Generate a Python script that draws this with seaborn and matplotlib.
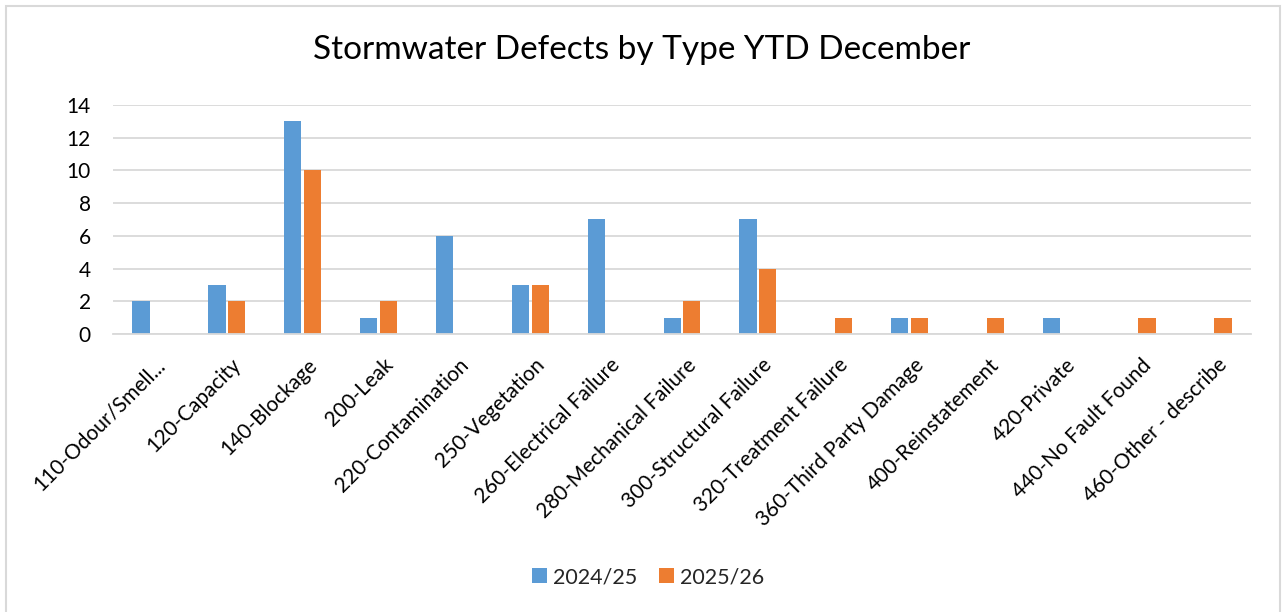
import matplotlib
matplotlib.use("Agg")
import matplotlib.pyplot as plt
import matplotlib.transforms as mtransforms
from matplotlib.patches import Rectangle
import seaborn as sns
import pandas as pd

categories = ["110-Odour/Smell...", "120-Capacity", "140-Blockage", "200-Leak",
              "220-Contamination", "250-Vegetation", "260-Electrical Failure",
              "280-Mechanical Failure", "300-Structural Failure", "320-Treatment Failure",
              "360-Third Party Damage", "400-Reinstatement", "420-Private",
              "440-No Fault Found", "460-Other - describe"]
series_names = ["2024/25", "2025/26"]
values_2024_25 = [2, 3, 13, 1, 6, 3, 7, 1, 7, 0, 1, 0, 1, 0, 0]
values_2025_26 = [0, 2, 10, 2, 0, 3, 0, 2, 4, 1, 1, 1, 0, 1, 1]
yticks = [0, 2, 4, 6, 8, 10, 12, 14]
title = "Stormwater Defects by Type YTD December"

df = pd.DataFrame({
    "category": categories * 2,
    "series": [series_names[0]] * len(categories) + [series_names[1]] * len(categories),
    "value": values_2024_25 + values_2025_26,
})

sns.set_theme(style="white")
plt.rcParams['font.family'] = ['Lato', 'DejaVu Sans']

W, H = 1285, 612
fig = plt.figure(figsize=(W / 100, H / 100), dpi=100)
ax = fig.add_axes([113 / W, 1 - 334 / H, (1251 - 113) / W, (334 - 105) / H])

palette = {"2024/25": "#5B9BD5", "2025/26": "#ED7D31"}
sns.barplot(data=df, x="category", y="value", hue="series", order=categories,
            hue_order=series_names, palette=palette, width=0.52, gap=0.13,
            saturation=1, ax=ax, legend=True, edgecolor="none")

ax.set_ylim(0, 14)
ax.set_xlim(-0.5, len(categories) - 0.5)
ax.set_yticks(yticks)
ax.set_yticklabels([str(v) for v in yticks], fontsize=15, color="#000000")
ax.yaxis.grid(True, color="#D9D9D9", linewidth=1.3)
ax.set_axisbelow(True)
for s in ["top", "right", "left"]:
    ax.spines[s].set_visible(False)
ax.spines["bottom"].set_color("#D9D9D9")
ax.spines["bottom"].set_linewidth(1.3)
ax.tick_params(axis="both", length=0)
ax.tick_params(axis="y", pad=16)
ax.set_xlabel("")
ax.set_ylabel("")
ax.set_xticks(range(len(categories)))
ax.set_xticklabels(categories, rotation=45, ha="right", rotation_mode="anchor",
                   fontsize=15, color="#000000")
ax.tick_params(axis="x", pad=15)
shift = mtransforms.ScaledTranslation(4 / 100, 0, fig.dpi_scale_trans)
for lab in ax.get_xticklabels():
    lab.set_transform(lab.get_transform() + shift)

fig.text(642 / W, 1 - 50 / H, title, ha="center", va="center", fontsize=24, color="#000000")

handles, labels = ax.get_legend_handles_labels()
ax.legend_.remove()
fig.legend(handles, labels, loc="center", bbox_to_anchor=(648 / W, 1 - 577 / H),
           ncol=2, frameon=False, fontsize=15.5, handlelength=0.7, handleheight=0.7,
           handletextpad=0.3, columnspacing=1.0)

fig.patches.append(Rectangle((6 / W, -0.05), (1280 - 6) / W, 1.05 - 6 / H,
                             transform=fig.transFigure, fill=False,
                             edgecolor="#D9D9D9", linewidth=1.5))

fig.savefig("out.png", dpi=100, facecolor="white")
